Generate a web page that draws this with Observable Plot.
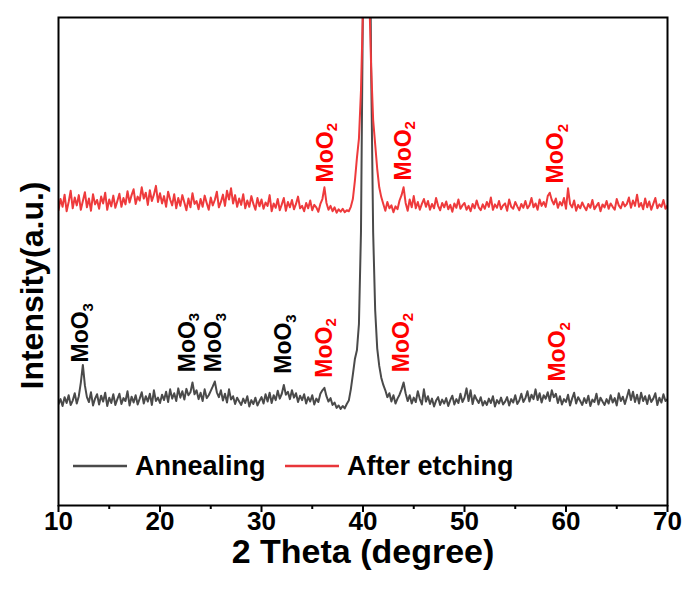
<!DOCTYPE html>
<html><head><meta charset="utf-8">
<script src="https://cdn.jsdelivr.net/npm/d3@7"></script>
<script src="https://cdn.jsdelivr.net/npm/@observablehq/plot@0.6"></script>
<style>
body{margin:0;background:#fff;}
#chart{width:684px;height:589px;}
</style></head><body><div id="chart"></div>
<script>
// 2θ sampling: 10.0 .. 70.0 every 0.2 degree
const thetaStart = 10;
const thetaStep = 0.2;

// Annealing (lower trace), intensity in a.u.
const annealing = [
208,218,204,222,210,226,206,215,230,209,
224,252,288,246,222,212,232,205,219,228,
207,225,213,231,204,221,210,228,206,218,
229,208,220,214,234,205,223,211,226,207,
219,232,209,224,213,229,206,236,214,221,
210,227,216,233,212,238,219,230,214,240,
221,234,217,239,226,232,252,228,236,218,
231,214,238,220,226,235,244,254,232,222,
236,215,229,211,238,217,224,208,221,213,
206,219,210,224,203,216,208,221,205,214,
222,209,228,213,231,210,226,216,235,219,
229,247,227,233,218,236,221,230,212,225,
216,228,209,222,213,226,207,219,212,229,
236,241,224,213,220,206,211,200,205,198,
204,199,208,215,238,268,300,318,372,560,
1050,1600,1700,1400,900,560,400,322,286,262,
247,236,222,230,213,226,209,219,227,238,
252,230,214,226,209,221,212,234,218,207,
238,213,224,208,219,203,215,222,206,217,
209,220,204,216,225,207,218,210,229,212,
221,240,214,236,208,226,217,210,222,205,
214,206,219,210,224,203,216,209,221,207,
213,222,205,218,211,226,208,215,229,212,
220,234,213,227,218,238,216,230,211,226,
219,232,214,236,222,229,210,224,207,218,
212,227,205,219,231,209,222,214,206,220,
210,225,204,217,212,229,207,221,213,206,
218,209,226,211,220,205,230,214,223,208,
222,237,216,233,212,227,209,231,214,224,
208,226,212,219,230,206,221,211,228,214,
218
];

// After etching (upper trace)
const afterEtching = [
605,628,612,637,603,622,645,609,631,615,
636,606,624,642,611,629,604,638,617,626,
608,633,619,641,606,627,613,635,610,624,
639,612,630,617,644,621,636,648,618,633,
625,652,629,641,616,646,624,637,655,622,
640,619,634,612,643,627,615,638,609,630,
614,636,621,605,629,611,640,618,624,607,
628,612,635,620,606,631,615,626,643,611,
622,637,614,645,627,650,619,636,612,629,
616,638,609,625,612,634,618,606,630,613,
627,608,621,614,636,603,619,610,628,605,
617,630,604,622,611,626,607,618,633,609,
614,603,620,609,625,605,616,611,602,618,
628,652,620,606,614,603,611,600,607,602,
608,601,605,603,612,628,665,712,752,850,
1020,1300,1350,1060,900,790,740,690,652,632,
618,604,622,609,615,601,613,607,625,636,
652,620,604,627,611,634,609,622,606,618,
628,612,624,606,618,609,630,614,605,620,
611,623,607,616,602,619,610,627,608,615,
620,606,614,603,618,609,625,611,605,617,
608,622,612,631,606,617,610,624,607,615,
619,604,627,612,608,622,613,605,618,610,
624,609,615,630,611,619,606,627,614,622,
612,634,641,626,617,629,610,622,615,630,
608,650,618,611,625,604,616,609,621,612,
605,618,610,626,607,614,620,603,617,611,
624,608,619,612,606,628,615,609,622,613,
618,631,610,625,614,637,612,620,607,629,
611,623,606,618,630,609,617,612,626,608,
615
];

const seriesNames = ["Annealing", "After etching"];
const seriesColors = ["#4a4a4a", "#ee3a3c"];

// Phase labels: position in 2θ, intensity where label starts
const moo3Theta = [12.2, 22.7, 25.3, 32.2];
const moo3Y = [293, 273, 273, 270];
const moo2Theta = [36.2, 43.8, 59.2, 36.3, 44.0, 59.0];
const moo2Y = [262, 273, 254, 662, 666, 660];

const xTicks = [10, 20, 30, 40, 50, 60, 70];
const xMinorTicks = [15, 25, 35, 45, 55, 65];

const toRows = (vals, name) => vals.map((v, i) => ({
  theta: +(thetaStart + i * thetaStep).toFixed(1), intensity: v, series: name
}));
const rowsA = toRows(annealing, seriesNames[0]);
const rowsE = toRows(afterEtching, seriesNames[1]);
const moo3 = moo3Theta.map((t, i) => ({theta: t, y: moo3Y[i], label: "MoO3"}));
const moo2 = moo2Theta.map((t, i) => ({theta: t, y: moo2Y[i], label: "MoO2"}));

const font = "'Liberation Sans', Arial, sans-serif";

const plot = Plot.plot({
  width: 684, height: 589,
  marginLeft: 58, marginRight: 17, marginTop: 17, marginBottom: 84,
  x: {domain: [10, 70]},
  y: {domain: [0, 1000], axis: null},
  style: {fontFamily: font, fontWeight: "bold", background: "white", color: "black"},
  marks: [
    Plot.line(rowsA, {x: "theta", y: "intensity", stroke: seriesColors[0], strokeWidth: 2, clip: true}),
    Plot.line(rowsE, {x: "theta", y: "intensity", stroke: seriesColors[1], strokeWidth: 2, clip: true}),
    Plot.axisX({ticks: xTicks, tickSize: 7, tickPadding: -1, fontSize: 26, label: null, tickFormat: d => d, strokeWidth: 2}),
    Plot.axisX({ticks: xMinorTicks, tickSize: 4, text: null, label: null, strokeWidth: 2}),
    Plot.frame({stroke: "black", strokeWidth: 2}),
    Plot.text(moo3, {x: "theta", y: "y", text: "label", rotate: -90, textAnchor: "start", fill: "black", fontSize: 23}),
    Plot.text(moo2, {x: "theta", y: "y", text: "label", rotate: -90, textAnchor: "start", fill: "#ff0000", fontSize: 23}),
    Plot.text(["2 Theta (degree)"], {frameAnchor: "bottom", textAnchor: "middle", dy: 57, fontSize: 34}),
    Plot.text(["Intensity(a.u.)"], {frameAnchor: "left", textAnchor: "middle", dx: -26, dy: 24, rotate: -90, fontSize: 32})
  ]
});

// subscripts for phase labels
d3.select(plot).selectAll("text").each(function() {
  const t = this.textContent;
  if (!/^MoO[23]$/.test(t)) return;
  const el = d3.select(this);
  el.text(t.slice(0, -1));
  el.append("tspan").attr("dy", "0.3em").attr("font-size", 15).text(t.slice(-1));
});

// legend inside the frame
const svg = d3.select(plot);
const legendY = 466;
const legend = [
  {name: seriesNames[0], color: seriesColors[0], x: 73},
  {name: seriesNames[1], color: "#e8363a", x: 285}
];
legend.forEach(l => {
  svg.append("line").attr("x1", l.x).attr("x2", l.x + 54).attr("y1", legendY).attr("y2", legendY)
    .attr("stroke", l.color).attr("stroke-width", 2.5);
  svg.append("text").attr("x", l.x + 62).attr("y", legendY).attr("dy", "0.35em")
    .attr("text-anchor", "start")
    .attr("font-size", 27).attr("font-weight", "bold").attr("font-family", font)
    .attr("fill", "black").text(l.name);
});

document.getElementById("chart").appendChild(plot);
</script></body></html>
